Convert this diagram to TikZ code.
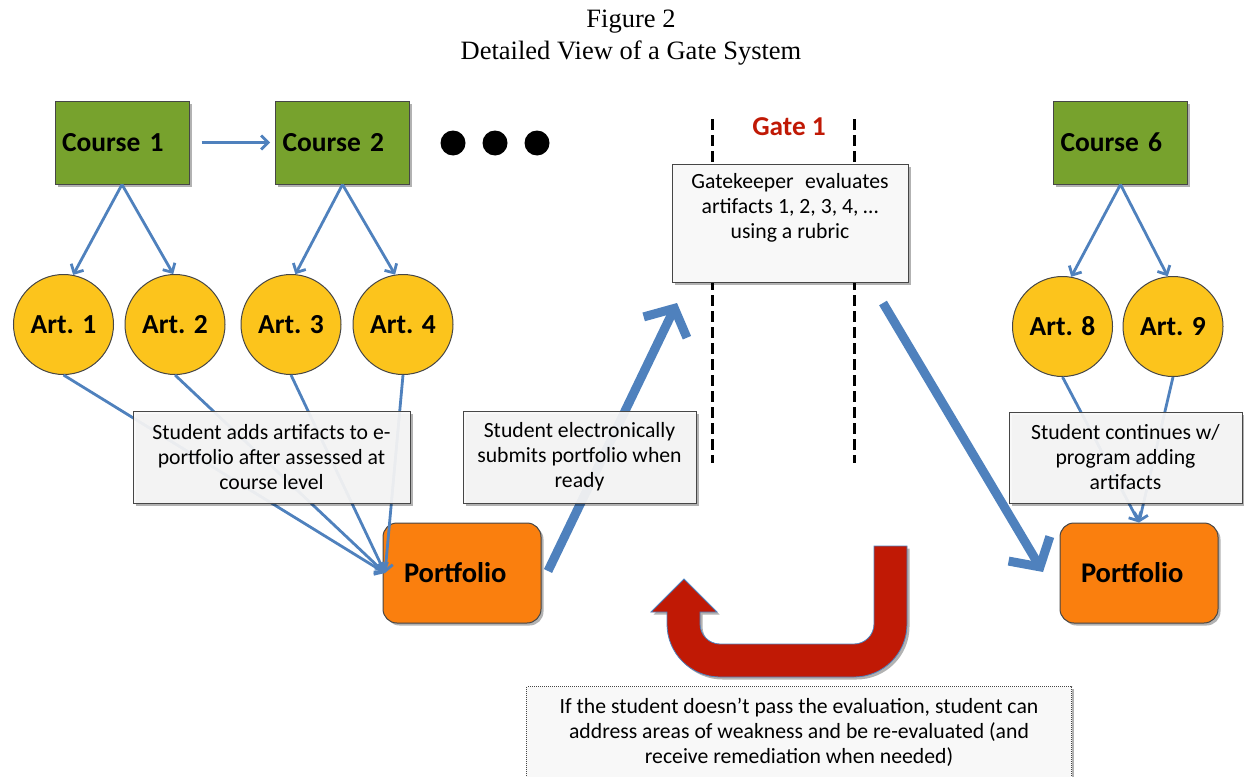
\documentclass[tikz,border=0pt]{standalone}
\usepackage{fontspec}
\setmainfont{Carlito}
\newfontfamily\titlefont{Liberation Serif}
\usetikzlibrary{arrows.meta,shadows}
\definecolor{lnblue}{RGB}{79,129,189}
\definecolor{crsgreen}{RGB}{119,162,45}
\definecolor{artyellow}{RGB}{252,196,28}
\definecolor{portorange}{RGB}{250,127,14}
\definecolor{gatered}{RGB}{192,25,5}
\definecolor{boxgray}{RGB}{248,248,248}
\definecolor{edgegray}{RGB}{70,70,70}
\begin{document}
\begin{tikzpicture}[x=1pt,y=-1pt,
  shad/.style={drop shadow={shadow xshift=2.5pt,shadow yshift=-2.5pt,opacity=0.3,fill=black}},
  course/.style={draw=edgegray,line width=1pt,fill=crsgreen,minimum height=83pt,
     text width=120pt,inner xsep=7pt,inner ysep=0pt,align=left,
     font=\fontsize{27.5}{30}\selectfont\bfseries,shad},
  art/.style={circle,draw=edgegray,line width=1pt,fill=artyellow,minimum size=100pt,inner sep=0pt,
     font=\fontsize{27.5}{30}\selectfont\bfseries},
  port/.style={draw=edgegray,line width=1pt,fill=portorange,rounded corners=14pt,
     minimum height=100pt,text width=116pt,inner xsep=21pt,align=left,
     font=\fontsize{28.5}{30}\selectfont\bfseries,shad},
  txtbox/.style={draw=edgegray,line width=1pt,fill=boxgray,fill opacity=0.93,text opacity=1,
     inner sep=0pt,align=center,font=\fontsize{21.7}{25}\selectfont,shad},
  bline/.style={draw=lnblue,line width=2.8pt},
  thinarr/.style={bline,-{Straight Barb[length=7pt,width=14pt]}},
  bigarr/.style={draw=lnblue,line width=9pt,-{Straight Barb[length=21pt,width=48pt]}},
  gatedash/.style={draw=black,line width=3pt,dash pattern=on 11pt off 5pt},
  dotnode/.style={circle,fill=black,minimum size=25pt,inner sep=0pt},
]
\useasboundingbox (0,0) rectangle (1244,776);
\clip (0,0) rectangle (1244,776);

% title
\node[font=\titlefont\fontsize{26.5}{30}\selectfont] (t1) at (631,22) {Figure 2};
\node[font=\titlefont\fontsize{26.5}{30}\selectfont] (t2) at (631,53) {Detailed View of a Gate System};

% gate dashed lines
\coordinate (gl1) at (712,119); \coordinate (gl2) at (712,463);
\coordinate (gr1) at (854,119); \coordinate (gr2) at (854,463);
\draw[gatedash] (gl1) -- (gl2);
\draw[gatedash] (gr1) -- (gr2);
\node[font=\fontsize{27.3}{30}\selectfont\bfseries,text=gatered] (g1) at (789,127) {Gate 1};

% courses
\node[course] (c1) at (122,142.5) {Course 1};
\node[course] (c2) at (342.5,142.5) {Course 2};
\node[course] (c6) at (1120.5,142.5) {Course 6};
\node[dotnode] (d1) at (453,143) {};
\node[dotnode] (d2) at (495,143) {};
\node[dotnode] (d3) at (537,143) {};

% artifacts
\node[art] (a1) at (63.5,324.5) {Art. 1};
\node[art] (a2) at (175,324.5) {Art. 2};
\node[art] (a3) at (291,324.5) {Art. 3};
\node[art] (a4) at (403,324.5) {Art. 4};
\node[art] (a8) at (1062.5,326.5) {Art. 8};
\node[art] (a9) at (1173,326.5) {Art. 9};

\draw[thinarr] ([xshift=12pt]c1.east) -- ([xshift=-5pt]c2.west);
\draw[thinarr] (c1.south) -- (a1.79);
\draw[thinarr] (c1.south) -- (a2.92);
\draw[thinarr] (c2.south) -- (a3.85);
\draw[thinarr] (c2.south) -- (a4.99);
\draw[thinarr] (c6.south) -- (a8.80);
\draw[thinarr] (c6.south) -- (a9.96);

% portfolios
\node[port] (pl) at (462,573) {Portfolio};
\node[port] (pr) at (1139,573) {Portfolio};

% big arrows
\coordinate (ba1s) at (548,571); \coordinate (ba1e) at (677,303);
\coordinate (ba2s) at (883,303); \coordinate (ba2e) at (1043,572);
\draw[bigarr] (ba1s) -- (ba1e);
\draw[bigarr] (ba2s) -- (ba2e);

% artifact lines to portfolio
\coordinate (pltip) at (385,573);
\draw[thinarr] (a1.south) -- (pltip);
\draw[thinarr] (a2.south) -- (pltip);
\draw[thinarr] (a3.south) -- (pltip);
\draw[thinarr] (a4.south) -- (pltip);
\draw[thinarr] (a8.south) -- (pr.north);
\draw[thinarr] (a9.south) -- (pr.north);

% text boxes
\node[txtbox,minimum width=277pt,minimum height=92pt] (b1) at (271.5,457)
  {Student adds artifacts to e-\\portfolio after assessed at\\course level};
\node[txtbox,minimum width=233pt,minimum height=92pt] (b2) at (579.5,457)
  {Student electronically\\submits portfolio when\\ready};
\node[txtbox,minimum width=233pt,minimum height=91pt] (b3) at (1125.5,457.5)
  {Student continues w/\\program adding\\artifacts};
\node[txtbox,fill opacity=1,minimum width=236pt,minimum height=118pt,anchor=north] (gk) at (790,164)
  {\parbox[t][100pt][t]{226pt}{\centering Gatekeeper\hspace{0.3em} evaluates\\artifacts 1, 2, 3, 4, …\\using a rubric}};

% red U-turn arrow
\path[fill=gatered,draw=lnblue,line width=0.8pt,shad]
  (874,546) -- (907,546) -- (907,624)
  .. controls (907,653.3) and (883.3,677) .. (854,677) -- (720,677)
  .. controls (690.7,677) and (667,653.3) .. (667,624) -- (667,612) -- (651,612)
  -- (684,579) -- (717,612) -- (700,612) -- (700,624)
  .. controls (700,635) and (709,644) .. (720,644) -- (854,644)
  .. controls (865,644) and (874,635) .. (874,624) -- cycle;

% bottom box
\node[txtbox,fill opacity=1,dash pattern=on 1pt off 1pt,line width=1.2pt,minimum width=545pt,minimum height=92pt,anchor=north] (b4) at (799,686)
  {If the student doesn’t pass the evaluation, student can\\address areas of weakness and be re-evaluated (and\\receive remediation when needed)};
\end{tikzpicture}
\end{document}
